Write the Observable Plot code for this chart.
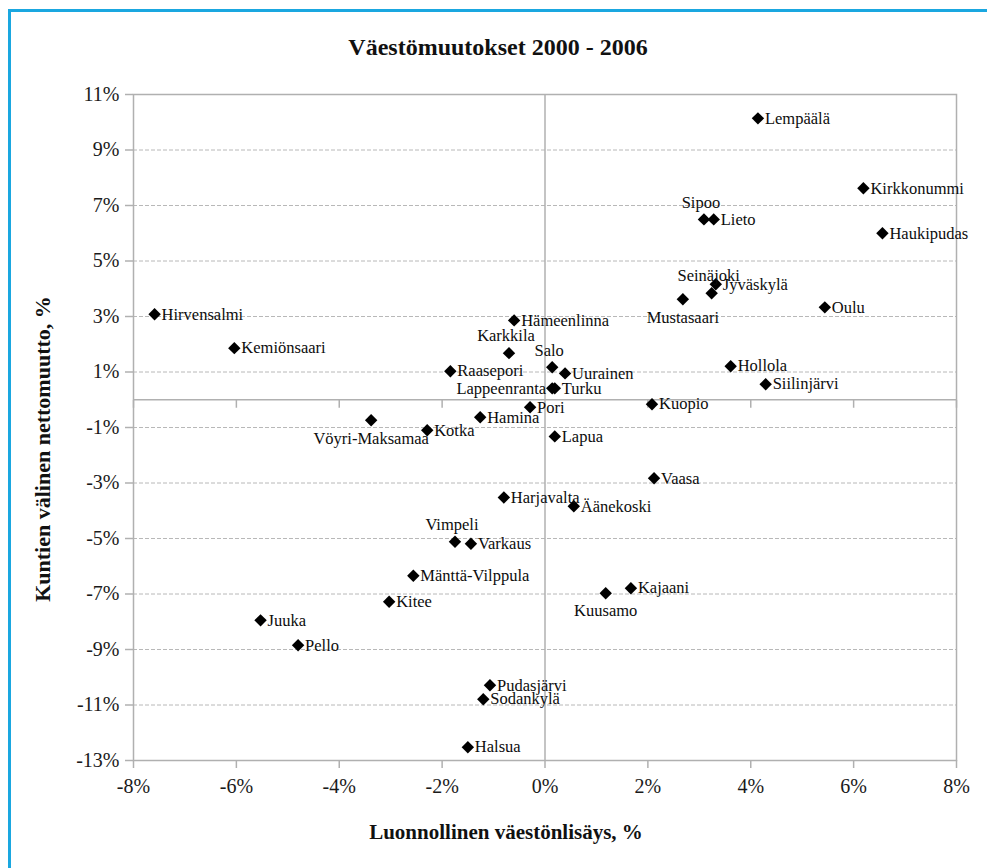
<!DOCTYPE html>
<html><head><meta charset="utf-8">
<script src="https://cdn.jsdelivr.net/npm/d3@7"></script>
<script src="https://cdn.jsdelivr.net/npm/@observablehq/plot@0.6"></script>
<style>
body{margin:0;background:#fff;}
#wrap{position:relative;width:987px;height:868px;overflow:hidden;font-family:"Liberation Serif","DejaVu Serif",serif;color:#111;}
#border{position:absolute;left:8px;top:9px;width:1100px;height:1000px;border-left:3px solid #1aa7e0;border-top:3px solid #1aa7e0;}
#title{position:absolute;top:34px;left:498px;transform:translateX(-50%);white-space:nowrap;font-weight:bold;font-size:24px;}
#xtitle{position:absolute;top:820px;left:506px;transform:translateX(-50%);white-space:nowrap;font-weight:bold;font-size:21px;}
#ytitle{position:absolute;left:43px;top:449px;transform:translate(-50%,-50%) rotate(-90deg);white-space:nowrap;font-weight:bold;font-size:22px;}
#chart{position:absolute;left:0;top:0;}
#chart svg, #chart svg text{font-family:"Liberation Serif","DejaVu Serif",serif !important;}
</style>
</head><body>
<div id="wrap">
  <div id="chart"></div>
  <div id="border"></div>
  <div id="title">Väestömuutokset 2000 - 2006</div>
  <div id="xtitle">Luonnollinen väestönlisäys, %</div>
  <div id="ytitle">Kuntien välinen nettomuutto, %</div>
</div>
<script>
const municipalities = ["Lempäälä","Kirkkonummi","Haukipudas","Sipoo","Lieto","Jyväskylä","Seinäjoki","Mustasaari","Oulu","Hollola","Siilinjärvi","Kuopio","Hirvensalmi","Kemiönsaari","Hämeenlinna","Karkkila","Salo","Uurainen","Raasepori","Lappeenranta","Turku","Pori","Hamina","Vöyri-Maksamaa","Kotka","Lapua","Vaasa","Harjavalta","Äänekoski","Vimpeli","Varkaus","Mänttä-Vilppula","Kitee","Kuusamo","Kajaani","Juuka","Pello","Pudasjärvi","Sodankylä","Halsua"];
const naturalGrowth = [4.14,6.19,6.56,3.09,3.28,3.32,3.24,2.68,5.44,3.61,4.29,2.08,-7.59,-6.04,-0.60,-0.70,0.14,0.39,-1.84,0.14,0.19,-0.29,-1.26,-3.38,-2.29,0.19,2.12,-0.80,0.56,-1.75,-1.44,-2.56,-3.03,1.18,1.67,-5.53,-4.80,-1.07,-1.20,-1.50];
const netMigration = [10.14,7.62,6.00,6.50,6.50,4.16,3.84,3.62,3.33,1.21,0.56,-0.16,3.08,1.86,2.86,1.68,1.17,0.95,1.03,0.41,0.41,-0.27,-0.63,-0.74,-1.10,-1.32,-2.83,-3.52,-3.84,-5.12,-5.19,-6.34,-7.28,-6.97,-6.79,-7.95,-8.85,-10.29,-10.79,-12.52];
const xTicks = [-8,-6,-4,-2,0,2,4,6,8];
const yTicks = [11,9,7,5,3,1,-1,-3,-5,-7,-9,-11,-13];
// label placement relative to the marker (default: right)
const labelSide = {"Sipoo":"above","Seinäjoki":"above","Karkkila":"above","Salo":"above","Vimpeli":"above",
  "Mustasaari":"below","Vöyri-Maksamaa":"below","Kuusamo":"below","Lappeenranta":"left"};

const data = municipalities.map((name,i)=>({name, x: naturalGrowth[i], y: netMigration[i], side: labelSide[name] || "right"}));
const font = "Liberation Serif";
const pct = d => `${d}%`;
const tickDown = {draw(ctx){ ctx.moveTo(0,0); ctx.lineTo(0,8); }};
const lab = {x:"x", y:"y", text:"name", fontFamily: font, fontSize: 16.5, fill:"#0d0d0d"};

const chart = Plot.plot({
  width: 987, height: 868,
  marginLeft: 133, marginRight: 31, marginTop: 94, marginBottom: 108,
  style: {fontFamily: font, background: "transparent"},
  x: {domain: [-8, 8]},
  y: {domain: [-13, 11]},
  marks: [
    Plot.ruleY(yTicks.filter(d => d !== 11 && d !== -13), {stroke:"#b8b8b8", strokeDasharray:"4,2", strokeWidth:1}),
    Plot.ruleX([0], {stroke:"#b0b0b0", strokeWidth:1.5}),
    Plot.ruleY([0], {stroke:"#b0b0b0", strokeWidth:1.5}),
    Plot.dot(xTicks.filter(d => d !== 0), {x: d => d, y: () => 0, symbol: tickDown, stroke:"#b0b0b0", fill:"none", strokeWidth:1.5}),
    Plot.frame({stroke:"#b0b0b0", strokeWidth:1.5}),
    Plot.axisX({ticks: xTicks, tickFormat: pct, tickSize: 8, tickPadding: 10, stroke:"#b0b0b0", strokeWidth:1.5, fill:"#1a1a1a", fontSize: 20, fontFamily: font, label: null}),
    Plot.axisY({ticks: yTicks, tickFormat: pct, tickSize: 8, tickPadding: 6, stroke:"#b0b0b0", strokeWidth:1.5, fill:"#1a1a1a", fontSize: 20, fontFamily: font, label: null}),
    Plot.dot(data, {x:"x", y:"y", symbol:"diamond2", r:5.6, fill:"#000", stroke:"none"}),
    Plot.text(data.filter(d => d.side === "right"), {...lab, textAnchor:"start", dx: 7}),
    Plot.text(data.filter(d => d.side === "left"), {...lab, textAnchor:"end", dx: -6}),
    Plot.text(data.filter(d => d.side === "above"), {...lab, textAnchor:"middle", dx: -3, dy: -17}),
    Plot.text(data.filter(d => d.side === "below"), {...lab, textAnchor:"middle", dy: 18})
  ]
});
document.getElementById("chart").appendChild(chart);
</script>
</body></html>
